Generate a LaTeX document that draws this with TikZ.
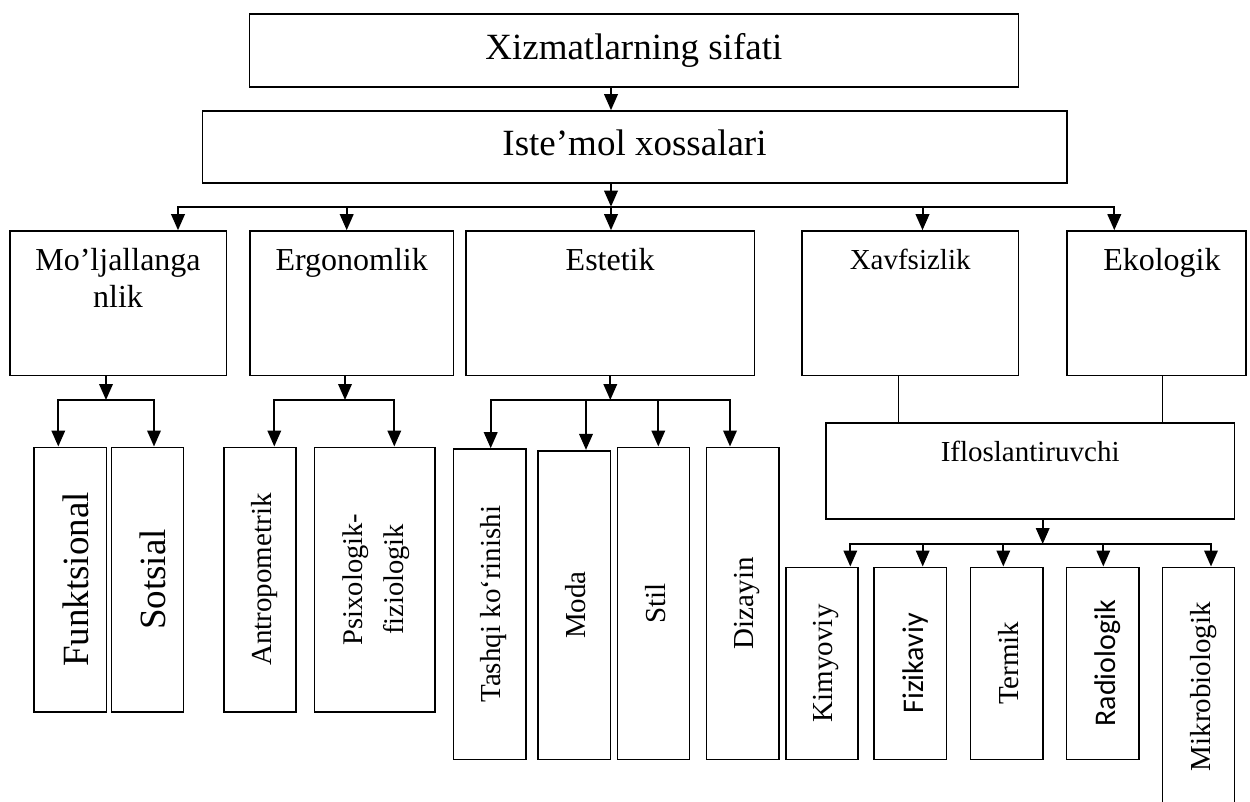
\documentclass[tikz,border=0pt]{standalone}
\usepackage{fontspec}
\setmainfont{Liberation Serif}
\newfontfamily\calfont{Carlito}
\usetikzlibrary{arrows.meta,calc,fit}
\tikzset{
  bx/.style={draw,line width=1.6pt,inner sep=0pt},
  lbl/.style={inner sep=0pt,anchor=base},
  vlbl/.style={inner sep=0pt,anchor=base,rotate=90},
  arr/.style={line width=2pt,-{Triangle[length=16pt,width=13.5pt]}},
  bus/.style={line width=2pt,line cap=rect},
  thinln/.style={line width=1.3pt},
}
\begin{document}
\begin{tikzpicture}[x=1pt,y=-1pt]
\useasboundingbox (0,0) rectangle (1250,802);
\clip (0,0) rectangle (1250,802);
% boxes
\node[bx,fit={(249.3,14.3) (1018.3,87.3)}] (top) {};
\node[bx,fit={(202.3,111) (1066.7,183)}] (ist) {};
\node[bx,fit={(9.7,231) (226.3,375.3)}] (moj) {};
\node[bx,fit={(250,231) (453.3,375.3)}] (erg) {};
\node[bx,fit={(466,231) (754.3,375.3)}] (est) {};
\node[bx,fit={(802,231) (1018.3,375.3)}] (xav) {};
\node[bx,fit={(1066.7,231) (1246,375.3)}] (eko) {};
\node[bx,line width=1.4pt,fit={(826,423) (1234.3,519)}] (ifl) {};
\node[bx,fit={(33.7,447.3) (106.3,711.7)}] (fun) {};
\node[bx,fit={(111.3,447.3) (183.3,711.7)}] (sot) {};
\node[bx,fit={(223.7,447.3) (296,711.7)}] (ant) {};
\node[bx,fit={(314.3,447.3) (434.7,711.7)}] (psi) {};
\node[bx,fit={(453.3,449) (525.7,759.3)}] (tas) {};
\node[bx,fit={(538,450.7) (610.3,759.3)}] (mod) {};
\node[bx,fit={(617.3,447.3) (689.3,759.3)}] (sti) {};
\node[bx,fit={(706.3,447.3) (778.7,759.3)}] (diz) {};
\node[bx,fit={(785.7,567.3) (858,759.3)}] (kim) {};
\node[bx,fit={(874,567.3) (946.3,759.3)}] (fiz) {};
\node[bx,fit={(970.3,567.3) (1042.7,759.3)}] (ter) {};
\node[bx,fit={(1066.3,567.3) (1138.7,759.3)}] (rad) {};
\node[bx,fit={(1162.3,567.3) (1234.3,808)}] (mik) {};
% texts
\node[lbl,font=\fontsize{37}{44}\selectfont] (ttop) at ($(top.north)+(0,45.7)$) {Xizmatlarning sifati};
\node[lbl,font=\fontsize{37}{44}\selectfont] (tist) at ($(ist.north)+(0,45)$) {Iste’mol xossalari};
\node[lbl,font=\fontsize{32}{36.7}\selectfont] (tmoj) at ($(moj.north)+(0,40.7)$) {\begin{tabular}[t]{@{}c@{}}Mo’ljallanga\\nlik\end{tabular}};
\node[lbl,font=\fontsize{32}{38}\selectfont] (terg) at ($(erg.north)+(0,40.7)$) {Ergonomlik};
\node[lbl,font=\fontsize{32}{38}\selectfont] (test) at ($(est.north)+(0,40.7)$) {Estetik};
\node[lbl,font=\fontsize{29}{35}\selectfont] (txav) at ($(xav.north)+(0,39)$) {Xavfsizlik};
\node[lbl,font=\fontsize{32}{38}\selectfont] (teko) at ($(eko.north)+(5.6,40.7)$) {Ekologik};
\node[lbl,font=\fontsize{29}{35}\selectfont] (tifl) at ($(ifl.north)+(0,38.7)$) {Ifloslantiruvchi};
\node[vlbl,font=\fontsize{37}{44}\selectfont] (tfun) at ($(fun.center)+(18.3,0)$) {Funktsional};
\node[vlbl,font=\fontsize{37}{44}\selectfont] (tsot) at ($(sot.center)+(17.7,0)$) {Sotsial};
\node[vlbl,font=\fontsize{29}{35}\selectfont] (tant) at ($(ant.center)+(11.8,0)$) {Antropometrik};
\node[inner sep=0pt,rotate=90,font=\fontsize{28.5}{41.6}\selectfont] (tpsi) at (psi.center) {\begin{tabular}{@{}c@{}}Psixologik-\\fiziologik\end{tabular}};
\node[vlbl,font=\fontsize{29}{35}\selectfont] (ttas) at ($(tas.center)+(11.4,0)$) {Tashqi ko‘rinishi};
\node[vlbl,font=\fontsize{29}{35}\selectfont] (tmod) at ($(mod.center)+(11.5,0)$) {Moda};
\node[vlbl,font=\fontsize{29}{35}\selectfont] (tsti) at ($(sti.center)+(12.5,0)$) {Stil};
\node[vlbl,font=\fontsize{29}{35}\selectfont] (tdiz) at ($(diz.center)+(10.8,0)$) {Dizayin};
\node[vlbl,font=\fontsize{29}{35}\selectfont] (tkim) at ($(kim.center)+(10.9,0)$) {Kimyoviy};
\node[vlbl,font=\calfont\fontsize{30}{36}\selectfont] (tfiz) at ($(fiz.center)+(13.8,0)$) {Fizikaviy};
\node[vlbl,font=\fontsize{29}{35}\selectfont] (tter) at ($(ter.center)+(11.8,0)$) {Termik};
\node[vlbl,font=\calfont\fontsize{30}{36}\selectfont] (trad) at ($(rad.center)+(12.5,0)$) {Radiologik};
\node[vlbl,font=\fontsize{29}{35}\selectfont] (tmik) at ($(mik.north)+(12.4,120.2)$) {Mikrobiologik};
% level 0 -> 1
\coordinate (a0) at (611,0);
\draw[arr] (top.south -| a0) -- (ist.north -| a0);
\coordinate (b1) at (611,206.7);
\coordinate (b1L) at (178,206.7);
\coordinate (b1R) at (1114.3,206.7);
\draw[arr] (ist.south -| b1) -- (b1);
\draw[bus] (b1L) -- (b1R);
\draw[arr] (b1L) -- (b1L |- moj.north);
\draw[arr] (b1 -| 346.7,0) -- (erg.north -| 346.7,0);
\draw[arr] (b1) -- (b1 |- est.north);
\draw[arr] (b1 -| 922.5,0) -- (xav.north -| 922.5,0);
\draw[arr] (b1R) -- (b1R |- eko.north);
% Mo'ljallanganlik
\coordinate (m1) at (106,400);
\coordinate (mL) at (58.3,400);
\coordinate (mR) at (154,400);
\draw[arr] (moj.south -| m1) -- (m1);
\draw[bus] (mL) -- (mR);
\draw[arr] (mL) -- (mL |- fun.north);
\draw[arr] (mR) -- (mR |- sot.north);
% Ergonomlik
\coordinate (e1) at (345,400);
\coordinate (eL) at (274.3,400);
\coordinate (eR) at (394.3,400);
\draw[arr] (erg.south -| e1) -- (e1);
\draw[bus] (eL) -- (eR);
\draw[arr] (eL) -- (eL |- ant.north);
\draw[arr] (eR) -- (eR |- psi.north);
% Estetik
\coordinate (s1) at (610.3,400);
\coordinate (sL) at (490.7,400);
\coordinate (sR) at (730,400);
\draw[arr] (est.south -| s1) -- (s1);
\draw[bus] (sL) -- (sR);
\draw[arr] (sL) -- (sL |- tas.north);
\draw[arr] (s1 -| 586,0) -- (mod.north -| 586,0);
\draw[arr] (s1 -| 658.3,0) -- (sti.north -| 658.3,0);
\draw[arr] (sR) -- (sR |- diz.north);
% Xavfsizlik / Ekologik -> Ifloslantiruvchi
\draw[thinln] (xav.south -| 898.3,0) -- (ifl.north -| 898.3,0);
\draw[thinln] (eko.south -| 1162.3,0) -- (ifl.north -| 1162.3,0);
% Ifloslantiruvchi
\coordinate (i1) at (1042.7,544);
\coordinate (iL) at (850.3,544);
\coordinate (iR) at (1211,544);
\draw[arr] (ifl.south -| i1) -- (i1);
\draw[bus] (iL) -- (iR);
\draw[arr] (iL) -- (iL |- kim.north);
\draw[arr] (i1 -| 922.7,0) -- (fiz.north -| 922.7,0);
\draw[arr] (i1 -| 1003.3,0) -- (ter.north -| 1003.3,0);
\draw[arr] (i1 -| 1103.3,0) -- (rad.north -| 1103.3,0);
\draw[arr] (iR) -- (iR |- mik.north);
\end{tikzpicture}
\end{document}
